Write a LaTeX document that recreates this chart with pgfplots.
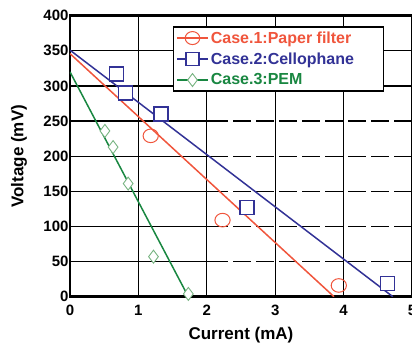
\documentclass[border=0pt]{standalone}
\usepackage{fontspec}
\setmainfont{Liberation Sans}
\usepackage{pgfplots}
\pgfplotsset{compat=1.18}
\definecolor{cred}{RGB}{240,85,60}
\definecolor{cblue}{RGB}{50,50,150}
\definecolor{cgreen}{RGB}{25,135,65}
\definecolor{cgreenm}{RGB}{120,180,130}
\newcommand{\lent}[2]{\makebox[168pt][l]{\textcolor{#1}{#2}}}
\begin{document}
\begin{tikzpicture}[trim axis right]
\begin{axis}[
  scale only axis, width=342pt, height=281pt,
  xmin=0, xmax=5, ymin=0, ymax=400,
  xtick={0,1,2,3,4,5}, ytick={0,50,...,400},
  xmajorgrids, grid style={black, line width=1.3pt},
  axis line style={line width=2.6pt},
  tick style={draw=none},
  /pgf/number format/assume math mode=true,
  ticklabel style={font=\fontsize{15}{17}\selectfont\bfseries},
  xticklabel style={yshift=-5pt},
  yticklabel style={xshift=2pt},
  xlabel={Current (mA)}, ylabel={Voltage (mV)},
  label style={font=\fontsize{17}{19}\selectfont\bfseries},
  xlabel style={at={(axis description cs:0.5,-0.135)}, anchor=center},
  ylabel style={at={(axis description cs:-0.149,0.5)}, anchor=center},
  legend style={at={(0.301,0.962)}, anchor=north west, draw=black, line width=1.3pt,
    font=\fontsize{16}{18}\selectfont\bfseries, row sep=4pt, inner sep=2.5pt},
  legend cell align=left,
  legend image code/.code={\draw[mark repeat=2,mark phase=2,#1] plot coordinates {(0cm,0cm)(0.55cm,0cm)(1.1cm,0cm)};},
]
% horizontal grid lines
\pgfplotsinvokeforeach{300,350}{
  \addplot[forget plot, black, line width=1.3pt] coordinates {(0,#1)(5,#1)};
}
\pgfplotsinvokeforeach{50,100,150,200,250}{
  \addplot[forget plot, black, line width=1.3pt] coordinates {(0,#1)(2.05,#1)};
  \addplot[forget plot, black, line width=1.3pt, dash pattern=on 18pt off 5pt] coordinates {(2.05,#1)(5,#1)};
}
% fit lines
\addplot[forget plot, cblue, line width=1.5pt] coordinates {(0,351)(4.72,0)};
\addplot[forget plot, cred, line width=1.5pt] coordinates {(0,346)(3.86,0)};
\addplot[forget plot, cgreen, line width=1.5pt] coordinates {(0,320)(1.73,0)};
% markers
\addplot[forget plot, only marks, mark=o, mark size=6.8pt, cred, line width=1pt, mark options={xscale=1.12, fill=white}]
  coordinates {(1.18,229)(2.23,109)(3.93,16)};
\addplot[forget plot, only marks, mark=square*, mark size=7pt, cblue, line width=1.4pt, mark options={fill=white}]
  coordinates {(0.68,317)(0.81,290)(1.33,260)(2.59,127)(4.64,19)};
\addplot[forget plot, only marks, mark=diamond*, mark size=6.5pt, cgreenm, line width=0.9pt, mark options={fill=white}]
  coordinates {(0.51,236)(0.63,213)(0.85,161)(1.22,57)(1.73,4)};
% legend
\addlegendimage{cred, line width=1.5pt, mark=o, mark size=6.5pt, mark options={xscale=1.12, fill=white, line width=1pt}}
\addlegendentry{\lent{cred}{Case.1:Paper filter}}
\addlegendimage{cblue, line width=1.5pt, mark=square*, mark size=6.5pt, mark options={fill=white, line width=1.4pt}}
\addlegendentry{\lent{cblue}{Case.2:Cellophane}}
\addlegendimage{cgreen, line width=1.5pt, mark=diamond*, mark size=6.5pt, mark options={fill=white, draw=cgreenm, line width=0.9pt}}
\addlegendentry{\lent{cgreen}{Case.3:PEM}}
\end{axis}
\path ([xshift=-70pt,yshift=15.7pt]current axis.north west);
\path ([xshift=-70pt,yshift=-48.3pt]current axis.south west);
\end{tikzpicture}
\end{document}
